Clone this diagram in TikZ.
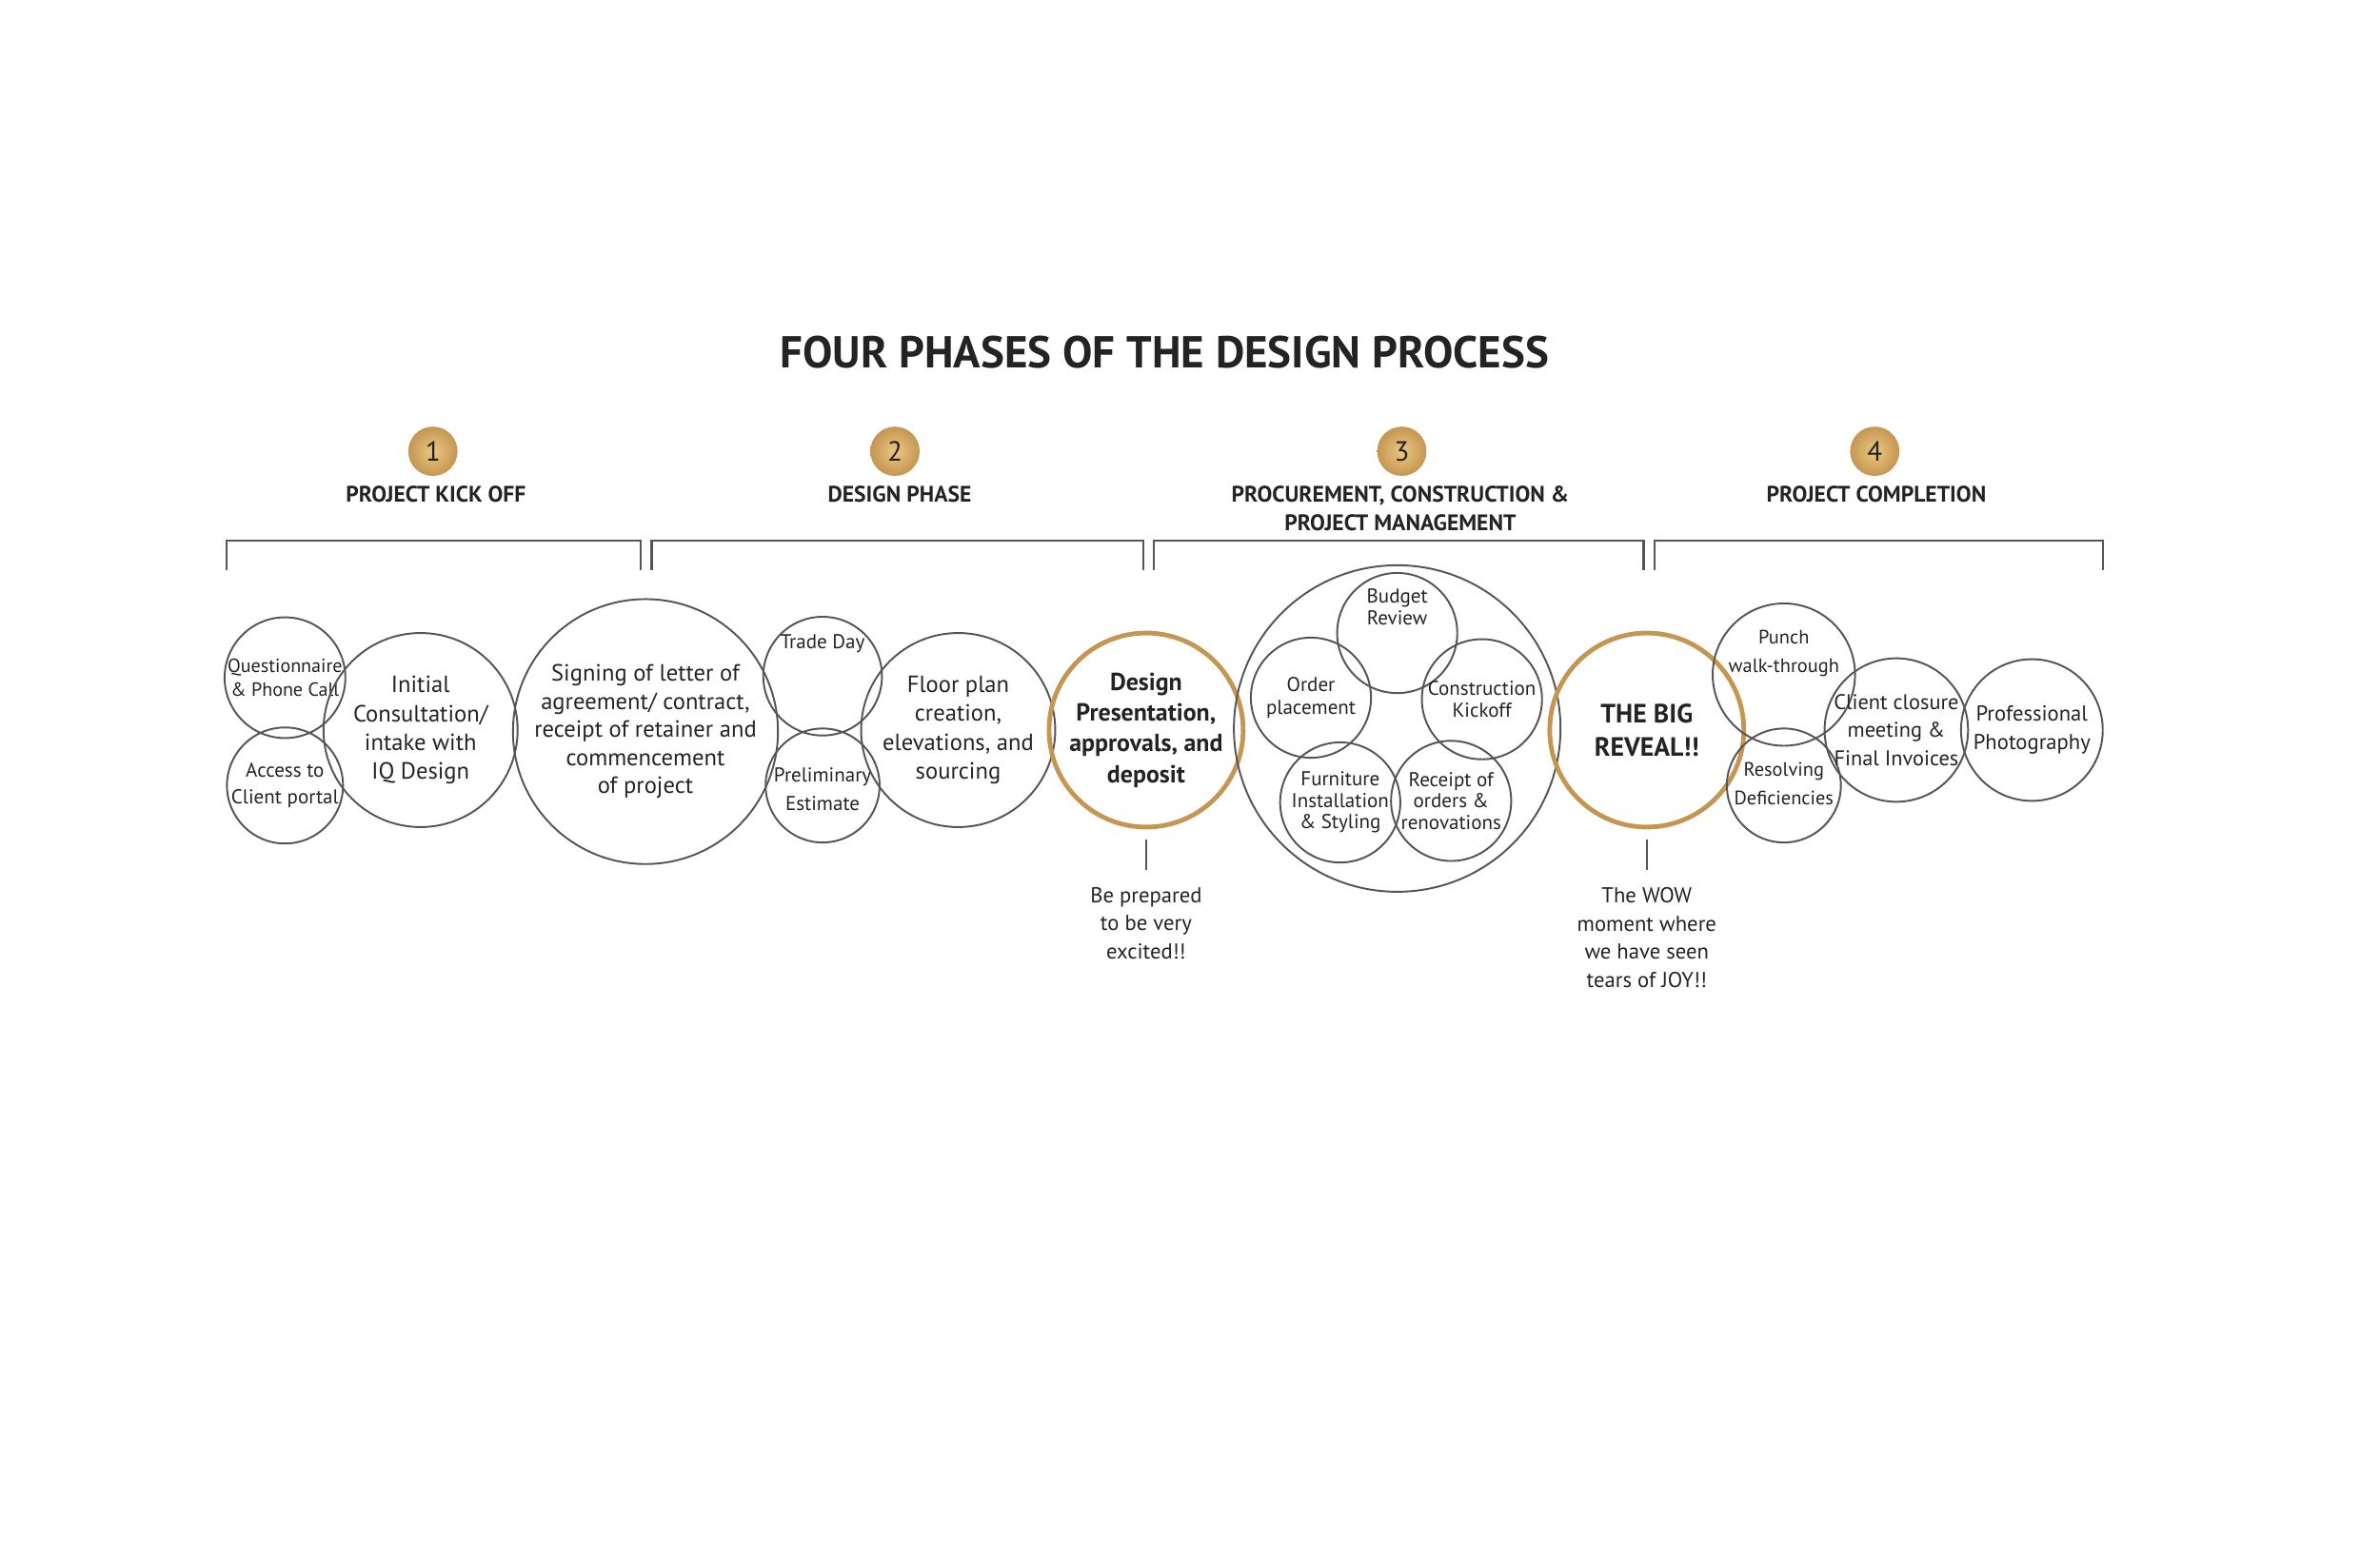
\documentclass[tikz,border=0pt]{standalone}
\usepackage{fontspec}
\setmainfont{PT Sans}
\definecolor{gold}{RGB}{196,150,82}
\definecolor{goldl}{RGB}{236,200,130}
\definecolor{ln}{RGB}{85,85,85}
\definecolor{tx}{RGB}{35,35,35}
\begin{document}
\begin{tikzpicture}[x=0.5pt,y=-0.5pt,
  bub/.style={circle,draw=ln,line width=0.6pt,minimum size=#1,inner sep=0pt,align=center,text=tx,font=\fontsize{7}{8.6}\selectfont},
  gbub/.style={bub=#1,draw=gold,line width=1.5pt},
  num/.style={circle,minimum size=16pt,inner sep=0pt,inner color=goldl,outer color=gold,text=tx,font=\fontsize{9}{10}\selectfont},
  phase/.style={font=\bfseries\fontsize{7.3}{9.2}\selectfont,text=tx,align=center},
  note/.style={font=\fontsize{7}{9.2}\selectfont,text=tx,align=center,anchor=north},
  brk/.style={draw=ln,line width=0.7pt}]
\useasboundingbox (0,0) rectangle (1545,1000);
\node[font=\bfseries\fontsize{14.5}{16}\selectfont,text=tx] (title) at (756,229) {FOUR PHASES OF THE DESIGN PROCESS};
\node[num] (n1) at (281,293) {1};
\node[num] (n2) at (581,293) {2};
\node[num] (n3) at (910,293) {3};
\node[num] (n4) at (1217,293) {4};
\node[phase] (p1) at (283,321) {PROJECT KICK OFF};
\node[phase] (p2) at (584,321) {DESIGN PHASE};
\node[phase] (p3) at (909,330) {PROCUREMENT, CONSTRUCTION \&\\PROJECT MANAGEMENT};
\node[phase] (p4) at (1218,321) {PROJECT COMPLETION};
\draw[brk] (147,370) -- (147,351) -- (416,351) -- (416,370);
\draw[brk] (423,370) -- (423,351) -- (742,351) -- (742,370);
\draw[brk] (749,370) -- (749,351) -- (1067,351) -- (1067,370);
\draw[brk] (1074,370) -- (1074,351) -- (1365,351) -- (1365,370);
\node[bub=37pt,font=\fontsize{6.2}{8}\selectfont] (q) at (185,440) {Questionnaire\\\& Phone Call};
\node[bub=37pt,font=\fontsize{6.5}{8.6}\selectfont] (a) at (185,510) {Access to\\Client portal};
\node[bub=63pt,font=\fontsize{7.6}{9.3}\selectfont] (i) at (273,474) {Initial\\Consultation/\\intake with\\IQ Design};
\node[bub=86pt,font=\fontsize{7.6}{9.1}\selectfont] (s) at (419,475) {Signing of letter of\\agreement/ contract,\\receipt of retainer and\\commencement\\of project};
\node[bub=37pt,font=\fontsize{6.5}{8.6}\selectfont] (t) at (534,439) {Trade Day\\[14pt]};
\node[bub=37pt,font=\fontsize{6.5}{9.3}\selectfont] (pe) at (534,510) {\\[-2pt]Preliminary\\Estimate};
\node[bub=63pt,font=\fontsize{7.6}{9.3}\selectfont] (f) at (622,474) {Floor plan\\creation,\\elevations, and\\sourcing};
\node[gbub=63pt,font=\bfseries\fontsize{8}{10}\selectfont] (d) at (744,474) {Design\\Presentation,\\approvals, and\\deposit};
\node[bub=106pt] (big) at (907,473) {};
\node[bub=39pt,font=\fontsize{6.5}{7}\selectfont] (b) at (907,411) {Budget\\Review\\[10pt]};
\node[bub=39pt,font=\fontsize{6.5}{7.2}\selectfont] (o) at (851,453) {Order\\placement};
\node[bub=39pt,font=\fontsize{6.5}{7}\selectfont] (c) at (962,454) {Construction\\Kickoff};
\node[bub=39pt,font=\fontsize{6.5}{7}\selectfont] (fu) at (870,521) {Furniture\\Installation\\\& Styling};
\node[bub=39pt,font=\fontsize{6.5}{7}\selectfont] (r) at (942,520) {Receipt of\\orders \&\\renovations};
\node[gbub=63pt,font=\bfseries\fontsize{8.6}{10.8}\selectfont] (rev) at (1069,474) {THE BIG\\REVEAL!!};
\node[bub=37pt,font=\fontsize{6.3}{9.3}\selectfont] (pu) at (1158,438) {Punch\\walk-through\\[6pt]};
\node[bub=37pt,font=\fontsize{6.3}{9.3}\selectfont] (re) at (1158,510) {\\[-6pt]Resolving\\Deficiencies};
\node[bub=46pt,font=\fontsize{6.9}{9.1}\selectfont] (cc) at (1231,474) {Client closure\\meeting \&\\Final Invoices};
\node[bub=46pt,font=\fontsize{7}{9.2}\selectfont] (ph) at (1319,474) {Professional\\Photography};
\coordinate (d1) at (744,545); \coordinate (d2) at (744,565);
\coordinate (r1) at (1069,545); \coordinate (r2) at (1069,565);
\draw[ln,line width=0.6pt] (d1) -- (d2);
\draw[ln,line width=0.6pt] (r1) -- (r2);
\node[note] (dn) at (744,569) {Be prepared\\to be very\\excited!!};
\node[note] (rn) at (1069,569) {The WOW\\moment where\\we have seen\\tears of JOY!!};
\end{tikzpicture}
\end{document}
